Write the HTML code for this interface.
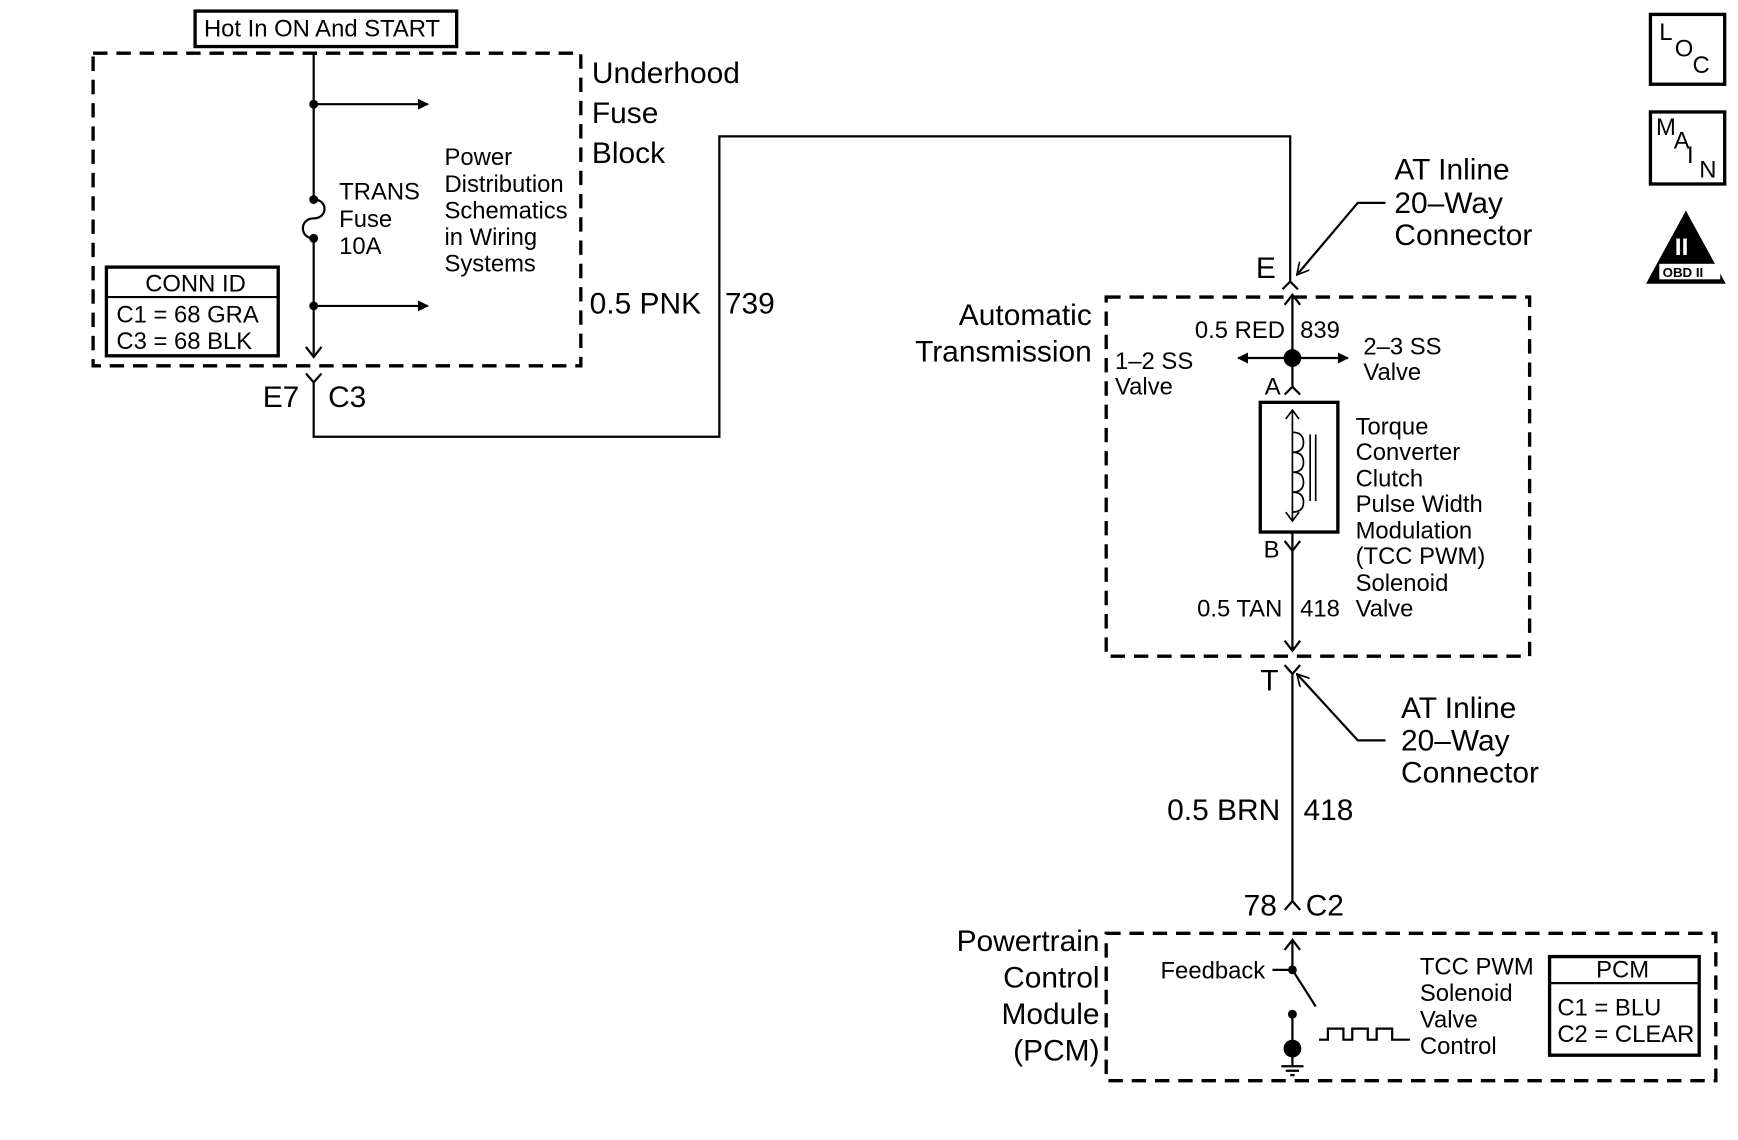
<!DOCTYPE html>
<html><head><meta charset="utf-8"><style>html,body{margin:0;padding:0;background:#fff}svg{display:block}text{font-family:"Liberation Sans",sans-serif;fill:#000}</style></head><body>
<svg width="1738" height="1140" viewBox="0 0 1568 1028.5" xmlns="http://www.w3.org/2000/svg">
<defs><marker id="ah" markerWidth="10" markerHeight="10" refX="9" refY="5" orient="auto" markerUnits="userSpaceOnUse"><path d="M0,0 L10,5 L0,10 z"/></marker>
<marker id="oa" markerWidth="12" markerHeight="12" refX="11" refY="6" orient="auto" markerUnits="userSpaceOnUse"><path d="M0,0 L11,6 L0,12" fill="none" stroke="#000" stroke-width="1.5"/></marker></defs>
<g fill="none" stroke="#000">
<rect x="176" y="10" width="236" height="32" stroke-width="3"/>
<rect x="84" y="48" width="440" height="282" stroke-width="3" stroke-dasharray="13,8"/>
<rect x="998" y="268" width="382" height="324" stroke-width="3" stroke-dasharray="13,8"/>
<rect x="998" y="842" width="550" height="133" stroke-width="3" stroke-dasharray="13,8"/>
<path d="M283,48 V180 M283,215 V320" stroke-width="2"/>
<path d="M283,180 C296,180 296,197 283,197 C270,197 270,215 283,215" stroke-width="2"/>
<path d="M283,94 H386" stroke-width="2" marker-end="url(#ah)"/>
<path d="M283,276 H386" stroke-width="2" marker-end="url(#ah)"/>
<path d="M276,313 L283,322 L290,313" stroke-width="2"/>
<path d="M276,337 L283,345 L290,337 M283,345 V394 H649 V123 H1164 V254 L1157,261 M1164,254 L1171,261" stroke-width="2"/>
<rect x="96" y="241" width="155" height="80" stroke-width="3"/>
<path d="M96,268 H251" stroke-width="2"/>
<path d="M1250,183 H1225 L1170,248" stroke-width="2" marker-end="url(#oa)"/>
<path d="M1159,275 L1166,266 L1173,275 M1166,266 V349 L1159,356 M1166,349 L1173,356" stroke-width="2"/>
<path d="M1166,323 H1117" stroke-width="2" marker-end="url(#ah)"/>
<path d="M1166,323 H1216" stroke-width="2" marker-end="url(#ah)"/>
<rect x="1137" y="363" width="70" height="117" stroke-width="3"/>
<path d="M1160,378 L1166,370 L1172,378 M1166,370 V470 M1160,462 L1166,470 L1172,462" stroke-width="1.5"/>
<path d="M1166,390 q10,0 10,9 q0,9 -10,9 q10,0 10,9 q0,9 -10,9 q10,0 10,9 q0,9 -10,9 q10,0 10,9 q0,9 -10,9" stroke-width="1.5"/>
<path d="M1182,392 V452 M1187,392 V452" stroke-width="1.5"/>
<path d="M1159,488 L1166,497 L1173,488 M1166,480 V586 M1159,578 L1166,587 L1173,578" stroke-width="2"/>
<path d="M1159,600 L1166,608 L1173,600 M1166,608 V813 L1159,821 M1166,813 L1173,821" stroke-width="2"/>
<path d="M1250,668 H1225 L1170,608" stroke-width="2" marker-end="url(#oa)"/>
<path d="M1159,857 L1166,848 L1173,857 M1166,848 V875 L1187,908" stroke-width="2"/>
<path d="M1148,875 H1166 M1166,915 V940" stroke-width="2"/>
<path d="M1166,952 V962 M1156,962 H1176 M1160,966 H1172 M1164,970 H1168" stroke-width="2"/>
<path d="M1190,938 H1198 V928 H1212 V938 H1220 V928 H1234 V938 H1242 V928 H1256 V938 H1272" stroke-width="2"/>
<rect x="1398" y="863" width="135" height="89" stroke-width="3"/>
<path d="M1398,887 H1533" stroke-width="2"/>
<rect x="1489" y="13" width="67" height="63" stroke-width="3"/>
<rect x="1489" y="101" width="67" height="65" stroke-width="3"/>
</g>
<circle cx="283" cy="94" r="4"/><circle cx="283" cy="276" r="4"/><circle cx="283" cy="180" r="4"/><circle cx="283" cy="215" r="4"/>
<circle cx="1166" cy="323" r="8"/><circle cx="1166" cy="875" r="4"/><circle cx="1166" cy="915" r="4"/><circle cx="1166" cy="946" r="8"/>
<path d="M1521,190 L1557,256 L1485,256 z"/>
<rect x="1497" y="238" width="55" height="14" fill="#fff"/>
<text x="1511" y="230" font-size="22" font-weight="bold" style="fill:#fff">II</text>
<text x="1500" y="250" font-size="12" font-weight="bold">OBD II</text>
<g font-size="21.5">
<text x="184" y="33">Hot In ON And START</text>
<text x="306" y="180">TRANS</text><text x="306" y="205">Fuse</text><text x="306" y="229">10A</text>
<text x="401" y="149">Power</text><text x="401" y="173">Distribution</text><text x="401" y="197">Schematics</text><text x="401" y="221">in Wiring</text><text x="401" y="245">Systems</text>
<text x="131" y="263">CONN ID</text><text x="105" y="291">C1 = 68 GRA</text><text x="105" y="315">C3 = 68 BLK</text>
<text x="1078" y="305">0.5 RED</text><text x="1173" y="305">839</text>
<text x="1006" y="333">1–2 SS</text><text x="1006" y="356">Valve</text>
<text x="1230" y="320">2–3 SS</text><text x="1230" y="343">Valve</text>
<text x="1141" y="356">A</text><text x="1140" y="503">B</text>
<text x="1223" y="392">Torque</text><text x="1223" y="415">Converter</text><text x="1223" y="439">Clutch</text><text x="1223" y="462">Pulse Width</text><text x="1223" y="486">Modulation</text><text x="1223" y="509">(TCC PWM)</text><text x="1223" y="533">Solenoid</text><text x="1223" y="556">Valve</text>
<text x="1080" y="556">0.5 TAN</text><text x="1173" y="556">418</text>
<text x="1047" y="883">Feedback</text>
<text x="1281" y="879">TCC PWM</text><text x="1281" y="903">Solenoid</text><text x="1281" y="927">Valve</text><text x="1281" y="951">Control</text>
<text x="1440" y="882">PCM</text><text x="1405" y="916">C1 = BLU</text><text x="1405" y="940">C2 = CLEAR</text>
<text x="1497" y="36">L</text><text x="1511" y="51">O</text><text x="1527" y="66">C</text>
<text x="1494" y="122">M</text><text x="1510" y="134">A</text><text x="1522" y="147">I</text><text x="1533" y="160">N</text>
</g>
<g font-size="27">
<text x="534" y="75">Underhood</text><text x="534" y="111">Fuse</text><text x="534" y="147">Block</text>
<text x="532" y="283">0.5 PNK</text><text x="654" y="283">739</text>
<text x="237" y="367">E7</text><text x="296" y="367">C3</text>
<text x="1258" y="162">AT Inline</text><text x="1258" y="192">20–Way</text><text x="1258" y="221">Connector</text>
<text x="1133" y="251">E</text>
<text x="985" y="293" text-anchor="end">Automatic</text><text x="985" y="326" text-anchor="end">Transmission</text>
<text x="1137" y="623">T</text>
<text x="1264" y="648">AT Inline</text><text x="1264" y="677">20–Way</text><text x="1264" y="706">Connector</text>
<text x="1053" y="740">0.5 BRN</text><text x="1176" y="740">418</text>
<text x="1122" y="826">78</text><text x="1178" y="826">C2</text>
<text x="992" y="858" text-anchor="end">Powertrain</text><text x="992" y="891" text-anchor="end">Control</text><text x="992" y="924" text-anchor="end">Module</text><text x="992" y="957" text-anchor="end">(PCM)</text>
</g>
</svg>
</body></html>
